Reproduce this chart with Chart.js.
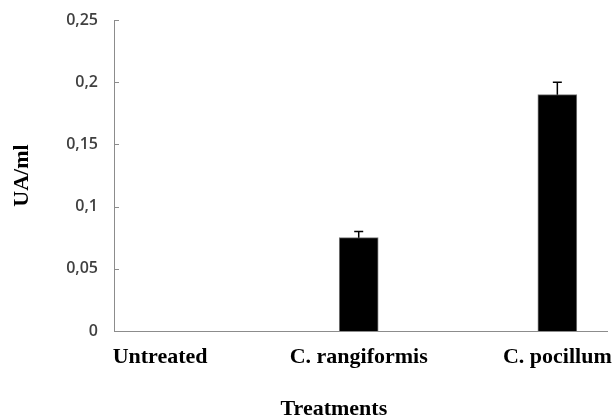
<!DOCTYPE html>
<html>
<head>
<meta charset="utf-8">
<script src="https://cdn.jsdelivr.net/npm/chart.js@4.4.0/dist/chart.umd.min.js"></script>
<style>
  html, body { margin: 0; padding: 0; background: #fff; }
  #wrap { width: 613px; height: 418px; }
</style>
</head>
<body>
<div id="wrap"><canvas id="uaChart"></canvas></div>
<script>
// Datos del gráfico
const categories = ['Untreated', 'C. rangiformis', 'C. pocillum'];
const uaValues = [0, 0.075, 0.19];
const uaErrors = [0, 0.005, 0.01];
const yTicks = [0, 0.05, 0.1, 0.15, 0.2, 0.25];
const yTickLabels = ['0', '0,05', '0,1', '0,15', '0,2', '0,25'];
const yTitle = 'UA/ml';
const xTitle = 'Treatments';

const axisColor = '#8c8c8c';

// Barras de error, marcas interiores del eje Y y título del eje X
const extrasPlugin = {
    id: 'extras',
    afterDatasetsDraw(chart) {
        const { ctx, scales: { x, y } } = chart;
        const meta = chart.getDatasetMeta(0);
        ctx.save();

        ctx.strokeStyle = '#000';
        ctx.lineWidth = 1.5;
        uaErrors.forEach((err, i) => {
            if (!err) return;
            const bx = meta.data[i].x;
            const top = y.getPixelForValue(uaValues[i] + err);
            const base = y.getPixelForValue(uaValues[i]);
            ctx.beginPath();
            ctx.moveTo(bx, base);
            ctx.lineTo(bx, top);
            ctx.moveTo(bx - 4.5, top);
            ctx.lineTo(bx + 4.5, top);
            ctx.stroke();
        });

        ctx.strokeStyle = axisColor;
        ctx.lineWidth = 1;
        y.ticks.forEach(t => {
            const py = Math.round(y.getPixelForValue(t.value)) + 0.5;
            ctx.beginPath();
            ctx.moveTo(x.left, py);
            ctx.lineTo(x.left + 5, py);
            ctx.stroke();
        });

        ctx.font = 'bold 22px "Liberation Serif"';
        ctx.fillStyle = '#000';
        ctx.textAlign = 'center';
        ctx.textBaseline = 'alphabetic';
        ctx.fillText(xTitle, x.left + (x.right - x.left) * 0.446, chart.height - 3);
        ctx.restore();
    }
};

new Chart(document.getElementById('uaChart'), {
    type: 'bar',
    data: {
        datasets: [{
            data: categories.map((c, i) => ({ x: i, y: uaValues[i] })),
            backgroundColor: '#000',
            borderColor: '#777',
            borderWidth: 1,
            barThickness: 39
        }]
    },
    options: {
        responsive: true,
        maintainAspectRatio: false,
        animation: false,
        layout: { padding: { top: 20, right: 6, left: 0, bottom: 0 } },
        plugins: {
            legend: { display: false },
            tooltip: { enabled: false }
        },
        scales: {
            x: {
                type: 'linear',
                offset: false,
                min: -0.232,
                max: 2.25,
                grid: { display: false, drawTicks: false },
                border: { display: true, color: axisColor, width: 1 },
                ticks: {
                    font: { family: 'Liberation Serif', size: 22, weight: 'bold' },
                    color: '#000',
                    padding: 13,
                    autoSkip: false,
                    maxRotation: 0,
                    callback: v => categories[v] ?? ''
                },
                afterBuildTicks: s => { s.ticks = categories.map((c, i) => ({ value: i })); },
                afterFit: s => { s.height = 87; s.paddingLeft = 0; s.paddingRight = 0; }
            },
            y: {
                min: 0,
                max: 0.25,
                grid: { display: false, drawTicks: false },
                border: { display: true, color: axisColor, width: 1 },
                ticks: {
                    font: { family: 'Open Sans', size: 16, weight: '600' },
                    color: '#404040',
                    padding: 16,
                    callback: (v, i) => yTickLabels[i]
                },
                afterBuildTicks: s => { s.ticks = yTicks.map(v => ({ value: v })); },
                title: {
                    display: true,
                    text: yTitle,
                    font: { family: 'Liberation Serif', size: 22, weight: 'bold' },
                    color: '#000',
                    padding: { top: 9, bottom: 0 }
                },
                afterFit: s => { s.width = 114; s.paddingTop = 0; s.paddingBottom = 0; }
            }
        }
    },
    plugins: [extrasPlugin]
});
</script>
</body>
</html>
